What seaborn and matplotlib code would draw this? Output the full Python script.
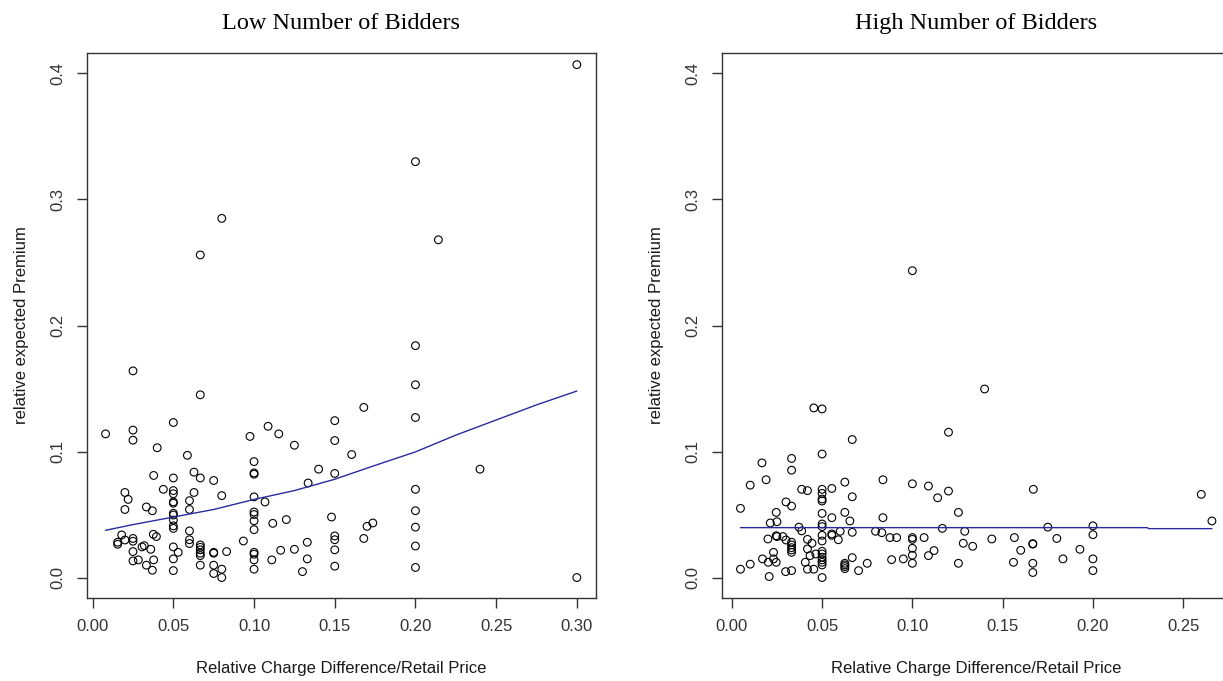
import matplotlib
matplotlib.use("Agg")
import matplotlib.pyplot as plt
import seaborn as sns
import pandas as pd

# ---------------- data ----------------
low_x = [0.025, 0.0667, 0.05, 0.008, 0.025, 0.025, 0.04, 0.0587, 0.0975, 0.1087,
         0.1153, 0.125, 0.14, 0.1335, 0.1, 0.1, 0.1, 0.1, 0.1068, 0.1,
         0.1, 0.1, 0.1, 0.1116, 0.12, 0.0934, 0.1, 0.1, 0.1, 0.1,
         0.111, 0.1165, 0.125, 0.133, 0.133, 0.130, 0.0378, 0.05, 0.0628, 0.0667,
         0.075, 0.08, 0.0438, 0.05, 0.05, 0.05, 0.05, 0.0628, 0.06, 0.06,
         0.02, 0.022, 0.02, 0.0333, 0.037, 0.05, 0.05, 0.05, 0.05, 0.05,
         0.06, 0.06, 0.06, 0.0376, 0.0395, 0.018, 0.0155, 0.0155, 0.02, 0.025,
         0.025, 0.025, 0.025, 0.0283, 0.0306, 0.032, 0.036, 0.0333, 0.0378, 0.037,
         0.05, 0.053, 0.05, 0.05, 0.0667, 0.0667, 0.0667, 0.0667, 0.0667, 0.0667,
         0.075, 0.075, 0.083, 0.075, 0.075, 0.08, 0.08,
         0.2, 0.2, 0.2, 0.168, 0.15, 0.15, 0.1605, 0.15, 0.24, 0.2,
         0.2, 0.2, 0.2, 0.2, 0.148, 0.15, 0.15, 0.15, 0.15, 0.170,
         0.1736, 0.168, 0.3, 0.3, 0.2, 0.2142, 0.08, 0.0667]
low_y = [0.164, 0.145, 0.123, 0.114, 0.117, 0.109, 0.103, 0.097, 0.112, 0.120,
         0.114, 0.105, 0.086, 0.075, 0.092, 0.083, 0.082, 0.064, 0.060, 0.052,
         0.050, 0.045, 0.038, 0.043, 0.046, 0.029, 0.020, 0.0185, 0.014, 0.0066,
         0.014, 0.0216, 0.0224, 0.028, 0.0148, 0.0047, 0.081, 0.079, 0.0836, 0.079,
         0.077, 0.065, 0.070, 0.069, 0.0665, 0.060, 0.059, 0.0675, 0.061, 0.054,
         0.0675, 0.062, 0.054, 0.056, 0.053, 0.051, 0.0496, 0.0456, 0.041, 0.039,
         0.037, 0.030, 0.027, 0.0343, 0.0325, 0.0338, 0.028, 0.0264, 0.0298, 0.031,
         0.0288, 0.0206, 0.0132, 0.014, 0.0243, 0.0253, 0.0224, 0.0098, 0.014, 0.0058,
         0.0243, 0.020, 0.0148, 0.0055, 0.0259, 0.024, 0.022, 0.0193, 0.0174, 0.0098,
         0.020, 0.0193, 0.0206, 0.0098, 0.0032, 0.0066, 0.0,
         0.184, 0.153, 0.127, 0.135, 0.1245, 0.1087, 0.0976, 0.0826, 0.086, 0.070,
         0.053, 0.040, 0.025, 0.008, 0.048, 0.033, 0.030, 0.022, 0.009, 0.0406,
         0.0433, 0.031, 0.0, 0.407, 0.330, 0.268, 0.285, 0.256]

low_fit_x = [0.008, 0.025, 0.05, 0.075, 0.1, 0.125, 0.15, 0.175, 0.2, 0.225, 0.25, 0.275, 0.3]
low_fit_y = [0.0375, 0.042, 0.048, 0.054, 0.062, 0.069, 0.078, 0.089, 0.0997, 0.113, 0.125, 0.137, 0.148]

high_x = [0.0454, 0.05, 0.0667, 0.05, 0.0331, 0.0331, 0.0167, 0.0102, 0.019, 0.0048,
          0.030, 0.0331, 0.0387, 0.0419, 0.05, 0.05, 0.05, 0.05, 0.0554, 0.0626,
          0.0667, 0.0837, 0.1, 0.1089, 0.114, 0.0246, 0.0213, 0.025, 0.05, 0.0554,
          0.0626, 0.0654, 0.0837, 0.05, 0.05, 0.0372, 0.0387, 0.0246, 0.025, 0.020,
          0.0283, 0.030, 0.0331, 0.0331, 0.0331, 0.0331, 0.0331, 0.0419, 0.0444, 0.05,
          0.05, 0.0554, 0.0554, 0.059, 0.060, 0.0667, 0.0796, 0.0831, 0.0876, 0.0913,
          0.1, 0.1, 0.1065, 0.0231, 0.017, 0.0231, 0.0202, 0.0246, 0.0102, 0.0048,
          0.0207, 0.0298, 0.0331, 0.0407, 0.0419, 0.0433, 0.0419, 0.0454, 0.0465, 0.05,
          0.05, 0.05, 0.05, 0.05, 0.05, 0.05, 0.0626, 0.0626, 0.0626, 0.0626,
          0.0667, 0.0702, 0.075, 0.0885, 0.095, 0.1, 0.1, 0.1, 0.1089, 0.112,
          0.1, 0.140, 0.120, 0.120, 0.1255, 0.1166, 0.129, 0.1282, 0.1334, 0.1255,
          0.144, 0.1565, 0.160, 0.156, 0.167, 0.1667, 0.1667, 0.1667, 0.1667, 0.175,
          0.180, 0.1834, 0.1928, 0.2, 0.2, 0.2, 0.2, 0.260, 0.2659]
high_y = [0.1346, 0.1338, 0.1095, 0.098, 0.0945, 0.0852, 0.091, 0.0733, 0.0776, 0.0549,
          0.060, 0.0567, 0.070, 0.069, 0.070, 0.0668, 0.0623, 0.0607, 0.0707, 0.0757,
          0.0641, 0.0776, 0.0744, 0.0726, 0.0633, 0.0517, 0.0433, 0.0443, 0.0509, 0.0475,
          0.0517, 0.0449, 0.0475, 0.0425, 0.0404, 0.040, 0.037, 0.0332, 0.0325, 0.0306,
          0.0325, 0.0298, 0.028, 0.0259, 0.0237, 0.0219, 0.020, 0.0303, 0.0272, 0.0335,
          0.029, 0.0346, 0.0335, 0.030, 0.0367, 0.0359, 0.0367, 0.0356, 0.0317, 0.0317,
          0.0317, 0.0303, 0.0317, 0.020, 0.0148, 0.0148, 0.0121, 0.0121, 0.0106, 0.0066,
          0.0008, 0.0047, 0.0055, 0.0121, 0.0066, 0.0174, 0.0227, 0.0066, 0.0187, 0.0208,
          0.0187, 0.0161, 0.014, 0.0121, 0.010, 0.0, 0.0113, 0.010, 0.0087, 0.0071,
          0.0158, 0.0055, 0.0113, 0.0142, 0.0148, 0.0232, 0.0177, 0.0113, 0.0174, 0.0214,
          0.2435, 0.1496, 0.1153, 0.0686, 0.0517, 0.039, 0.0367, 0.0272, 0.0248, 0.0113,
          0.0306, 0.0317, 0.0216, 0.0121, 0.070, 0.0269, 0.0265, 0.0113, 0.004, 0.040,
          0.031, 0.0148, 0.0224, 0.041, 0.034, 0.0148, 0.0055, 0.066, 0.0449]

high_fit_x = [0.0048, 0.23, 0.231, 0.2659]
high_fit_y = [0.0396, 0.0396, 0.0388, 0.0388]

titles = ["Low Number of Bidders", "High Number of Bidders"]
xlabel = "Relative Charge Difference/Retail Price"
ylabel = "relative expected Premium"
y_ticks = [0.0, 0.1, 0.2, 0.3, 0.4]
low_x_ticks = [0.00, 0.05, 0.10, 0.15, 0.20, 0.25, 0.30]
high_x_ticks = [0.00, 0.05, 0.10, 0.15, 0.20, 0.25]

# ---------------- style ----------------
sns.set_style("white")
plt.rcParams["font.family"] = ["Liberation Sans", "DejaVu Sans"]
plt.rcParams["font.size"] = 12

W, H = 1223, 681
fig = plt.figure(figsize=(W / 100, H / 100), dpi=100)
fig.patch.set_facecolor("white")

ax_w = (595.7 - 86.7) / W
ax_h = (597.7 - 53.3) / H
ax_b = (H - 597.7) / H
ax1 = fig.add_axes([86.7 / W, ax_b, ax_w, ax_h])
ax2 = fig.add_axes([721.7 / W, ax_b, ax_w, ax_h])

panels = [
    (ax1, low_x, low_y, low_fit_x, low_fit_y, low_x_ticks, (-0.00368, 0.31168)),
    (ax2, high_x, high_y, high_fit_x, high_fit_y, high_x_ticks, (-0.0056, 0.2763)),
]

for i, (ax, xs, ys, fx, fy, xt, xlim) in enumerate(panels):
    df = pd.DataFrame({"x": xs, "y": ys})
    sns.scatterplot(data=df, x="x", y="y", ax=ax, marker="o", s=31,
                    facecolor="none", edgecolor="black", linewidth=0.8,
                    legend=False, zorder=3)
    ax.collections[-1].set_facecolor("none")
    ax.collections[-1].set_edgecolor("black")
    fdf = pd.DataFrame({"x": fx, "y": fy})
    sns.lineplot(data=fdf, x="x", y="y", ax=ax, sort=False, estimator=None,
                 color="#2a2aa0", linewidth=1.0, zorder=4)
    ax.set_xlim(*xlim)
    ax.set_ylim(-0.016, 0.416)
    ax.set_xticks(xt)
    ax.set_xticklabels([f"{v:.2f}" for v in xt])
    ax.set_yticks(y_ticks)
    ax.set_yticklabels([f"{v:.1f}" for v in y_ticks], rotation=90, va="center")
    ax.tick_params(axis="both", direction="out", length=7.5, width=1.0,
                   color="#333333", labelcolor="#333333", labelsize=12,
                   bottom=True, left=True)
    ax.tick_params(axis="x", pad=7.5)
    ax.tick_params(axis="y", pad=8)
    for sp in ax.spines.values():
        sp.set_visible(True)
        sp.set_color("#333333")
        sp.set_linewidth(1.0)
    ax.grid(False)
    ax.set_xlabel(xlabel, fontsize=12, color="#1a1a1a")
    ax.set_ylabel(ylabel, fontsize=12, color="#1a1a1a")
    ax.xaxis.set_label_coords(0.5, -0.116)
    ax.yaxis.set_label_coords(-0.1143, 0.5)
    ax.set_title(titles[i], fontsize=17.5, family=["Liberation Serif", "DejaVu Serif"],
                 color="black", pad=17.3)

fig.savefig("out.png", dpi=100, facecolor="white")
